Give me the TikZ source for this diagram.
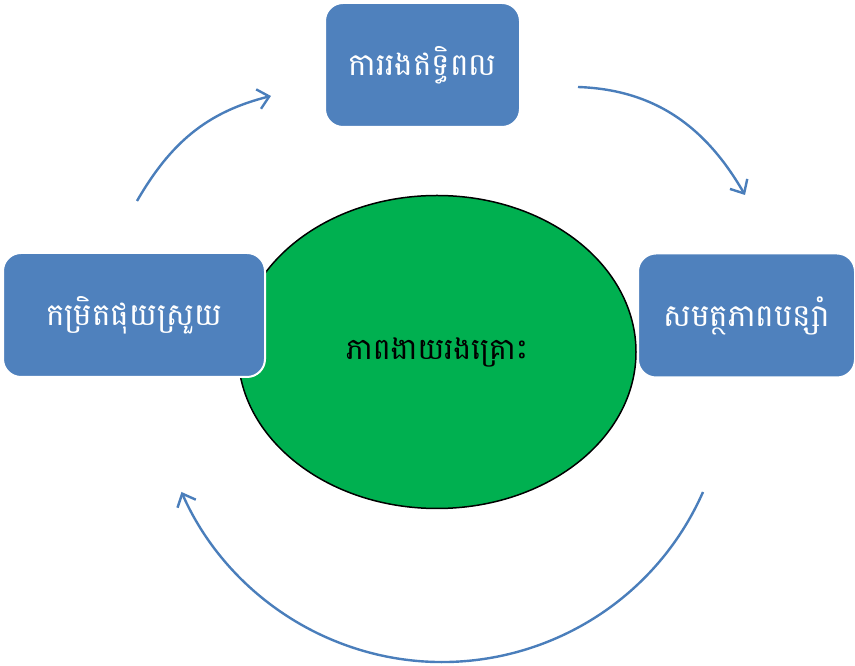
\documentclass[tikz,border=0pt]{standalone}
\usepackage{fontspec}
\newfontfamily\khmerfont[Script=Khmer]{Battambang}
\usetikzlibrary{shapes.geometric, arrows.meta}

\definecolor{boxblue}{HTML}{4F81BD}
\definecolor{coregreen}{HTML}{00B050}
\definecolor{arcblue}{HTML}{4A7EBB}

\tikzset{
  stage/.style={rectangle, rounded corners=18pt, fill=boxblue, draw=white,
    line width=2pt, text=white, inner sep=0pt,
    font=\khmerfont\fontsize{31}{36}\selectfont},
  core/.style={ellipse, fill=coregreen, draw=black, line width=1.5pt, inner sep=0pt,
    font=\khmerfont\fontsize{30}{36}\selectfont},
  cyclearrow/.style={draw=arcblue, line width=2.4pt,
    -{Straight Barb[length=11pt,width=20pt]}},
}

\begin{document}
\begin{tikzpicture}[x=1pt,y=1pt]

\newcommand{\boxht}{124}
\newcommand{\arcrad}{285}

\useasboundingbox (0,0) rectangle (855,666);

% centre
\node [core, minimum width=398, minimum height=313] (vuln) at (437,314) {ភាពងាយរងគ្រោះ};

% the three stages
\node [stage, minimum width=195, minimum height=\boxht] (expo) at (422.5,601) {ការរងឥទ្ធិពល};
\node [stage, minimum width=262, minimum height=\boxht] (sens) at (134,351) {កម្រិតផុយស្រួយ};
\node [stage, minimum width=217, minimum height=\boxht] (adapt) at (746.5,350.5) {សមត្ថភាពបន្សាំ};

\coordinate (tlA) at (137,465);
\coordinate (tlB) at (271,570);
\coordinate (trA) at (578,579);
\coordinate (trB) at (745,471);
\coordinate (btA) at (703,174);

\draw [cyclearrow] (tlA) to [out=60,in=194] (tlB);
\draw [cyclearrow] (trA) to [out=-2,in=120] (trB);
\draw [cyclearrow] (btA) arc [start angle=-23.8, end angle=-156.2, radius=\arcrad];

\end{tikzpicture}
\end{document}
